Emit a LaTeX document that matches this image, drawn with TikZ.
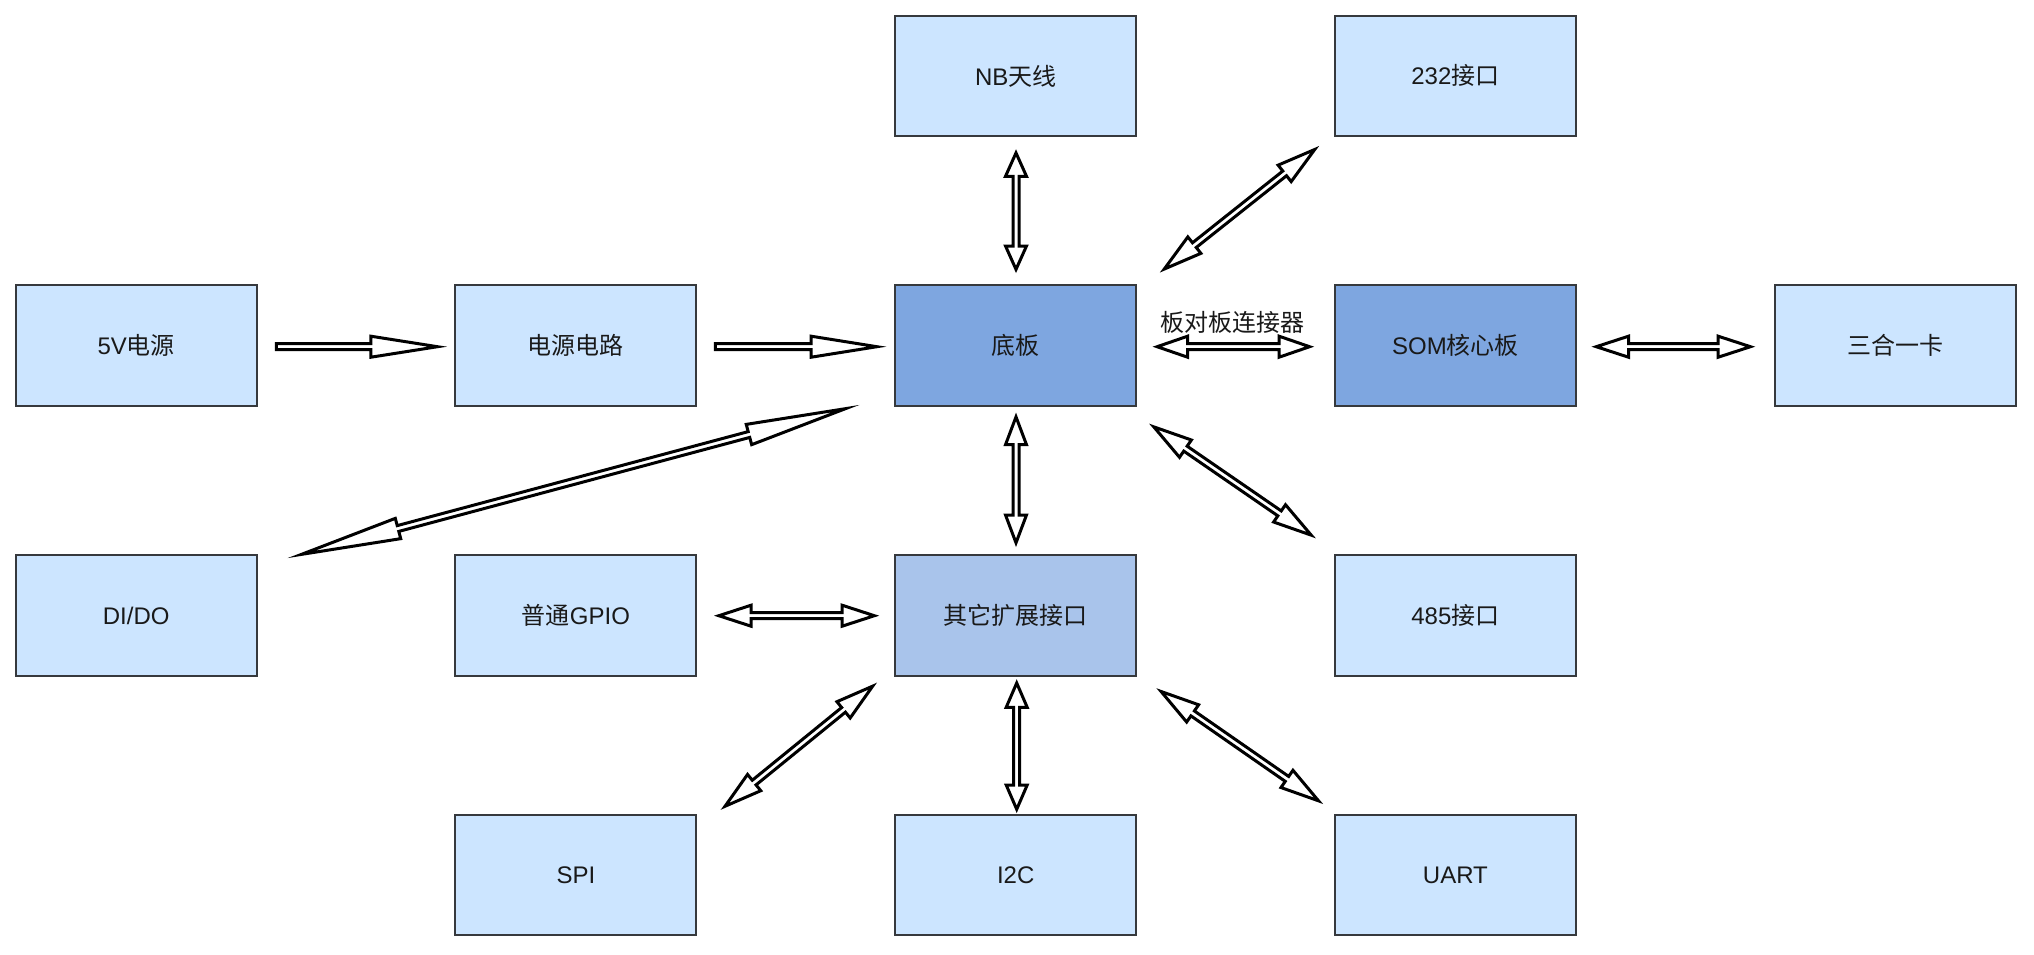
\documentclass[tikz,border=0pt]{standalone}
\usepackage{fontspec}
\setmainfont{Liberation Sans}
\newfontfamily\cjk{Noto Sans CJK SC}
\usetikzlibrary{calc}
\definecolor{lightfill}{HTML}{CCE5FF}
\definecolor{darkfill}{HTML}{7EA6E0}
\definecolor{midfill}{HTML}{A9C4EB}
\definecolor{boxline}{HTML}{36393D}
\tikzset{
  box/.style={draw=boxline, line width=2pt, minimum width=241pt, minimum height=120.6pt,
    inner sep=0pt, font=\fontsize{24}{28}\selectfont, text=black!90},
  lbox/.style={box, fill=lightfill},
  dbox/.style={box, fill=darkfill},
  mbox/.style={box, fill=midfill},
  lbltext/.style={inner sep=0pt, font=\fontsize{24}{28}\selectfont, text=black!90},
  flexarrow/.style={draw=black, fill=white, line width=3pt, line join=miter, miter limit=30},
}
\def\HW{10.5}
\def\BW{3}
% #1 from, #2 to, #3 head length, #4 1=double 0=single
\newcommand\flexarr[4]{%
  \path let \p1=(#1), \p2=(#2) in \pgfextra{%
    \pgfmathsetmacro\tmpA{atan2(\y2-\y1,\x2-\x1)}%
    \pgfmathsetmacro\tmpL{100*veclen((\x2-\x1)/100,(\y2-\y1)/100)}%
    \pgfmathsetmacro\tmpX{\x1}%
    \pgfmathsetmacro\tmpY{\y1}%
    \global\let\FA\tmpA \global\let\FL\tmpL \global\let\FX\tmpX \global\let\FY\tmpY};
  \pgfmathsetmacro\Fe{1.5*veclen(#3,\HW)/\HW}%
  \pgfmathsetmacro\Fe{1.5*veclen(#3-\Fe,\HW)/\HW}%
  \pgfmathsetmacro\Fend{\FL-\Fe}%
  \pgfmathsetmacro\Fhb{\FL-#3}%
  \ifnum#4=1 \pgfmathsetmacro\Fst{\Fe}\else\def\Fst{0}\fi
  \pgfmathsetmacro\Fha{#3}%
  \begin{scope}[shift={(\FX pt,\FY pt)}, rotate=\FA]
    \ifnum#4=1
      \draw[flexarrow] (\Fst pt,0pt) -- (\Fha pt,\HW pt) -- (\Fha pt,\BW pt) -- (\Fhb pt,\BW pt)
        -- (\Fhb pt,\HW pt) -- (\Fend pt,0pt) -- (\Fhb pt,-\HW pt) -- (\Fhb pt,-\BW pt)
        -- (\Fha pt,-\BW pt) -- (\Fha pt,-\HW pt) -- cycle;
    \else
      \draw[flexarrow] (0pt,\BW pt) -- (\Fhb pt,\BW pt) -- (\Fhb pt,\HW pt) -- (\Fend pt,0pt)
        -- (\Fhb pt,-\HW pt) -- (\Fhb pt,-\BW pt) -- (0pt,-\BW pt) -- cycle;
    \fi
  \end{scope}}
\begin{document}
\begin{tikzpicture}[x=1pt,y=-1pt]
\useasboundingbox[fill=white] (0,0) rectangle (2034,954);
% boxes
\node[lbox] (nb)   at (1015.7,75.9)  {NB{\cjk 天线}};
\node[lbox] (i232) at (1455.4,75.9)  {232{\cjk 接口}};
\node[lbox] (p5v)  at (136.2,345.7)  {5V{\cjk 电源}};
\node[lbox] (pwr)  at (575.9,345.7)  {\cjk 电源电路};
\node[dbox] (db)   at (1015.7,345.7) {\cjk 底板};
\node[dbox] (som)  at (1455.4,345.7) {SOM{\cjk 核心板}};
\node[lbox] (card) at (1895.3,345.7) {\cjk 三合一卡};
\node[lbox] (didi) at (136.2,615.5)  {DI/DO};
\node[lbox] (gpio) at (575.9,615.5)  {{\cjk 普通}GPIO};
\node[mbox] (ext)  at (1015.7,615.5) {\cjk 其它扩展接口};
\node[lbox] (i485) at (1455.4,615.5) {485{\cjk 接口}};
\node[lbox] (spi)  at (575.9,874.9)  {SPI};
\node[lbox] (i2c)  at (1015.7,874.9) {I2C};
\node[lbox] (uart) at (1455.4,874.9) {UART};
% connector end points
\coordinate (a1s) at ($(p5v.east)+(18.7,1)$);
\coordinate (a1e) at ($(pwr.west)+(-7.5,1)$);
\coordinate (a2s) at ($(pwr.east)+(18,1)$);
\coordinate (a2e) at ($(db.west)+(-8,1)$);
\coordinate (a3s) at ($(didi.north east)+(30.2,3.8)$);
\coordinate (a3e) at ($(db.south west)+(-35.1,-2)$);
\coordinate (a4s) at ($(nb.south)+(0.3,12.1)$);
\coordinate (a4e) at ($(db.north)+(0.3,-11.4)$);
\coordinate (a5s) at ($(i232.south west)+(-14.8,8.8)$);
\coordinate (a5e) at ($(db.north east)+(22.7,-11.9)$);
\coordinate (a6s) at ($(db.east)+(15.4,1)$);
\coordinate (a6e) at ($(som.west)+(-19.8,1)$);
\coordinate (a7s) at ($(som.east)+(14.6,1)$);
\coordinate (a7e) at ($(card.west)+(-18.6,1)$);
\coordinate (a8s) at ($(db.south)+(0.3,5.7)$);
\coordinate (a8e) at ($(ext.north)+(0.3,-7.2)$);
\coordinate (a9s) at ($(db.south east)+(12,16.7)$);
\coordinate (a9e) at ($(i485.north west)+(-18.1,-15.9)$);
\coordinate (a10s) at ($(gpio.east)+(16.7,0.2)$);
\coordinate (a10e) at ($(ext.west)+(-15.1,0.2)$);
\coordinate (a11s) at ($(ext.south west)+(-17.3,5.9)$);
\coordinate (a11e) at ($(spi.north east)+(23.4,-3.9)$);
\coordinate (a12s) at ($(ext.south)+(1,2.5)$);
\coordinate (a12e) at ($(i2c.north)+(1,-0.6)$);
\coordinate (a13s) at ($(ext.south east)+(19.3,11.5)$);
\coordinate (a13e) at ($(uart.north west)+(-10.8,-9.6)$);
% connectors
\flexarr{a1s}{a1e}{76}{0}
\flexarr{a2s}{a2e}{75}{0}
\flexarr{a3s}{a3e}{114}{1}
\flexarr{a4s}{a4e}{27}{1}
\flexarr{a5s}{a5e}{44}{1}
\flexarr{a6s}{a6e}{35}{1}
\flexarr{a7s}{a7e}{37}{1}
\flexarr{a8s}{a8e}{32}{1}
\flexarr{a9s}{a9e}{44}{1}
\flexarr{a10s}{a10e}{37}{1}
\flexarr{a11s}{a11e}{43}{1}
\flexarr{a12s}{a12e}{28}{1}
\flexarr{a13s}{a13e}{44}{1}
% label
\node[lbltext] (conn) at ($(a6s)!0.5!(a6e)+(-1,-24)$) {\cjk 板对板连接器};
\end{tikzpicture}
\end{document}
